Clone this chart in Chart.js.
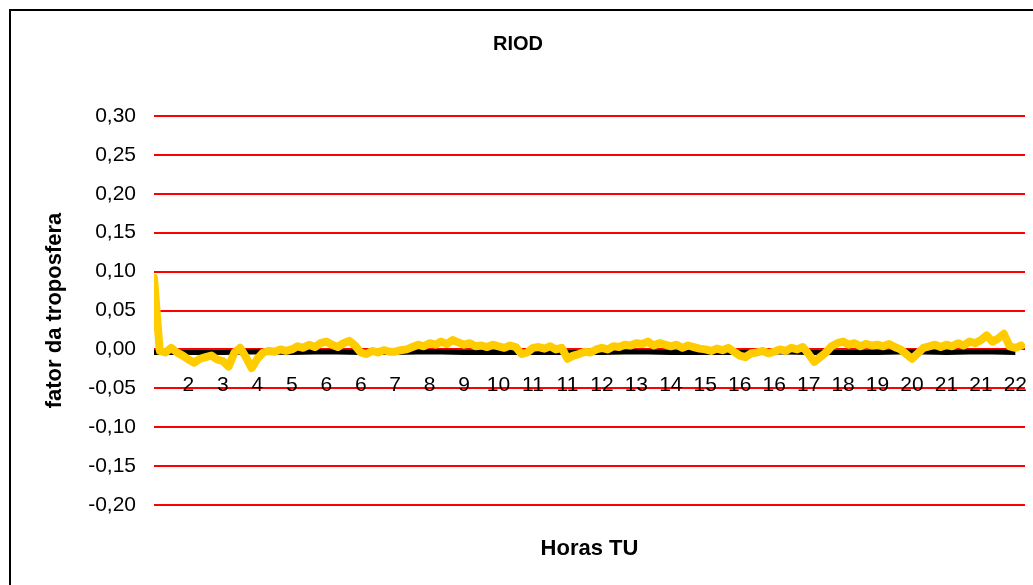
<!DOCTYPE html>
<html>
<head>
<meta charset="utf-8">
<script src="https://cdn.jsdelivr.net/npm/chart.js@4.4.1/dist/chart.umd.min.js"></script>
<style>
  html, body { margin: 0; padding: 0; overflow: hidden; background: #fff; }
  #frame { position: absolute; left: 9px; top: 9px; width: 1100px; height: 700px; border: 2px solid #000; }
  #chart { position: absolute; left: 0; top: 0; }
</style>
</head>
<body>
<div id="frame"><canvas id="chart" width="1036" height="574"></canvas></div>
<script>
// hour labels shown along the zero line (first slot has no label)
const hourLabels = ['', '2', '3', '4', '5', '6', '6', '7', '8', '9', '10', '11', '11', '12', '13', '14', '15', '16', '16', '17', '18', '19', '20', '21', '21', '22'];
const samplesPerHour = 6;
const xMax = 25.28;

// yellow series (RIOD), 6 readings per label step
const yellowValues = [
  0.092, -0.002, -0.004, 0.002, -0.004, -0.008,
  -0.013, -0.017, -0.012, -0.010, -0.008, -0.013,
  -0.015, -0.022, -0.004, 0.002, -0.010, -0.024,
  -0.012, -0.004, -0.002, -0.003, 0.000, -0.002,
  0.000, 0.004, 0.002, 0.006, 0.003, 0.008,
  0.010, 0.006, 0.003, 0.008, 0.011, 0.005,
  -0.004, -0.006, -0.002, -0.004, -0.001, -0.003,
  -0.003, -0.001, 0.000, 0.003, 0.006, 0.004,
  0.008, 0.006, 0.010, 0.007, 0.012, 0.009,
  0.006, 0.008, 0.004, 0.005, 0.003, 0.006,
  0.004, 0.002, 0.005, 0.003, -0.006, -0.004,
  0.002, 0.003, 0.001, 0.004, 0.000, 0.002,
  -0.012, -0.008, -0.006, -0.003, -0.004, 0.000,
  0.002, 0.000, 0.004, 0.003, 0.006, 0.005,
  0.008, 0.007, 0.010, 0.005, 0.008, 0.006,
  0.004, 0.006, 0.002, 0.005, 0.003, 0.001,
  0.000, -0.002, 0.001, -0.001, 0.002, -0.003,
  -0.008, -0.010, -0.005, -0.004, -0.002, -0.005,
  -0.003, 0.000, -0.002, 0.002, 0.000, 0.003,
  -0.006, -0.016, -0.010, -0.004, 0.004, 0.008,
  0.010, 0.006, 0.008, 0.004, 0.007, 0.005,
  0.006, 0.004, 0.007, 0.003, 0.000, -0.006,
  -0.012, -0.005, 0.002, 0.004, 0.006, 0.003,
  0.006, 0.004, 0.008, 0.005, 0.010, 0.008,
  0.012, 0.018, 0.010, 0.014, 0.020, 0.004,
  0.002, 0.005
];

// black series, one reading per label step (mostly hidden behind the yellow)
const blackValues = [
  -0.004, -0.004, -0.004, -0.003, -0.004, -0.003, -0.004, -0.004, -0.003, -0.004,
  -0.004, -0.004, -0.004, -0.004, -0.003, -0.004, -0.004, -0.004, -0.003, -0.004,
  -0.004, -0.004, -0.003, -0.004, -0.003, -0.004
];

const yTicks = [-0.20, -0.15, -0.10, -0.05, 0.00, 0.05, 0.10, 0.15, 0.20, 0.25, 0.30];

const fontFamily = '"Liberation Sans", Arial, sans-serif';

const yellowData = yellowValues.map((v, i) => ({ x: i / samplesPerHour, y: v }));
const blackData = blackValues.map((v, i) => ({ x: i, y: v }));

function noPad(scale) {
  scale.paddingLeft = 0;
  scale.paddingRight = 0;
  scale.paddingTop = 0;
  scale.paddingBottom = 0;
}

new Chart(document.getElementById('chart'), {
  type: 'line',
  data: {
    datasets: [
      {
        label: 'RIOD',
        data: yellowData,
        borderColor: '#FFCC00',
        borderWidth: 8,
        pointRadius: 0,
        tension: 0,
        borderJoinStyle: 'round',
        borderCapStyle: 'round',
        xAxisID: 'x'
      },
      {
        label: 'ref',
        data: blackData,
        borderColor: '#000000',
        borderWidth: 5,
        pointRadius: 0,
        tension: 0,
        xAxisID: 'x'
      }
    ]
  },
  options: {
    responsive: false,
    animation: false,
    events: [],
    layout: { padding: { left: 0, right: 22, top: 0, bottom: 0 } },
    plugins: {
      legend: { display: false },
      tooltip: { enabled: false },
      title: {
        display: true,
        text: 'RIOD',
        color: '#000',
        font: { family: fontFamily, size: 20, weight: 'bold' },
        padding: { top: 21, bottom: 60 }
      }
    },
    scales: {
      x: {
        type: 'linear',
        position: { y: 0 },
        min: 0,
        max: xMax,
        grid: { display: false, drawTicks: false },
        border: { display: false },
        afterBuildTicks: (scale) => {
          scale.ticks = hourLabels.map((_, i) => ({ value: i }));
        },
        afterFit: (scale) => { scale.height = 0; noPad(scale); },
        ticks: {
          autoSkip: false,
          maxRotation: 0,
          padding: 23,
          color: '#000',
          font: { family: fontFamily, size: 21 },
          callback: (value) => hourLabels[value] ?? ''
        }
      },
      x2: {
        type: 'linear',
        position: 'bottom',
        min: 0,
        max: xMax,
        grid: { display: false, drawTicks: false },
        border: { display: false },
        ticks: { display: false },
        afterFit: (scale) => { scale.height = 80; noPad(scale); },
        title: {
          display: true,
          text: 'Horas TU',
          color: '#000',
          font: { family: fontFamily, size: 22, weight: 'bold' },
          padding: { top: 0, bottom: 23 }
        }
      },
      y: {
        type: 'linear',
        position: 'left',
        min: -0.2,
        max: 0.3,
        afterBuildTicks: (scale) => {
          scale.ticks = yTicks.map(v => ({ value: v }));
        },
        afterFit: (scale) => { scale.width = 143; noPad(scale); },
        grid: { color: '#FF0000', lineWidth: 2, drawTicks: false },
        border: { display: false },
        ticks: {
          padding: 18,
          color: '#000',
          font: { family: fontFamily, size: 21 },
          callback: (value) => value.toFixed(2).replace('.', ',')
        },
        title: {
          display: true,
          text: 'fator da troposfera',
          color: '#000',
          font: { family: fontFamily, size: 22, weight: 'bold' },
          padding: { top: 31, bottom: 0 }
        }
      }
    }
  }
});
</script>
</body>
</html>
